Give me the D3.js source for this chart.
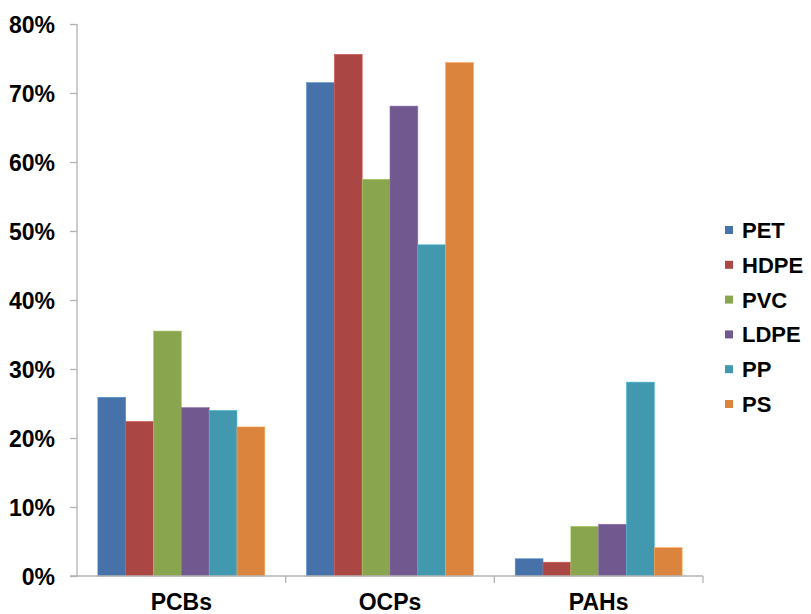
<!DOCTYPE html>
<html><head><meta charset="utf-8">
<script src="https://cdn.jsdelivr.net/npm/d3@7"></script>
<style>body{margin:0;background:#fff}svg{display:block}text{font-family:"Liberation Sans",Arial,sans-serif;font-weight:bold;fill:#000}</style>
</head><body><svg id="c" width="811" height="614"></svg>
<script>
const categories = ["PCBs", "OCPs", "PAHs"];
const seriesNames = ["PET", "HDPE", "PVC", "LDPE", "PP", "PS"];
const PET  = [25.9, 71.5, 2.5];
const HDPE = [22.4, 75.6, 2.0];
const PVC  = [35.5, 57.5, 7.2];
const LDPE = [24.4, 68.1, 7.5];
const PP   = [24.0, 48.0, 28.1];
const PS   = [21.6, 74.4, 4.1];
const seriesValues = [PET, HDPE, PVC, LDPE, PP, PS];
const colors = ["#4672A9", "#AA4643", "#89A54E", "#71588F", "#4198AF", "#DB843D"];
const yTicks = [0, 10, 20, 30, 40, 50, 60, 70, 80];

const svg = d3.select("#c");
const mLeft = 77, mRight = 703, mTop = 24, mBottom = 576;
const x0 = d3.scaleBand().domain(categories).range([mLeft, mRight]).paddingInner(0).paddingOuter(0);
const x1 = d3.scaleBand().domain(seriesNames).range([0, x0.bandwidth()]).paddingOuter(0.75).paddingInner(0);
const y = d3.scaleLinear().domain([0, 80]).range([mBottom, mTop]);

// bars
categories.forEach((c, ci) => {
  const g = svg.append("g").attr("transform", `translate(${x0(c)},0)`);
  seriesNames.forEach((s, si) => {
    const v = seriesValues[si][ci];
    g.append("rect")
      .attr("x", x1(s)).attr("width", x1.bandwidth())
      .attr("y", y(v)).attr("height", y(0) - y(v))
      .attr("fill", colors[si])
      .attr("stroke", d3.color(colors[si]).brighter(0.6)).attr("stroke-width", 0.6);
  });
});

// y axis
const yAxis = d3.axisLeft(y).tickValues(yTicks).tickFormat(d => d + "%").tickSize(7).tickPadding(15);
const ya = svg.append("g").attr("transform", `translate(${mLeft},0)`).call(yAxis);
ya.select(".domain").attr("stroke", "#b3b3b3").attr("stroke-width", 1.3).attr("d", `M0,${mTop}V${mBottom}`);
ya.selectAll(".tick line").attr("stroke", "#b3b3b3").attr("stroke-width", 1.3);
ya.selectAll(".tick text").style("font-size", "23px").attr("dy", "0.36em").style("font-weight", "bold").attr("fill", "#000");

// x axis
const xa = svg.append("g").attr("transform", `translate(0,${mBottom})`);
xa.append("line").attr("x1", mLeft - 7).attr("x2", mRight).attr("stroke", "#b3b3b3").attr("stroke-width", 1.3);
const bounds = categories.map(c => x0(c) + x0.bandwidth());
xa.selectAll(".bt").data(bounds).enter().append("line")
  .attr("x1", d => d).attr("x2", d => d).attr("y1", 0).attr("y2", 7)
  .attr("stroke", "#b3b3b3").attr("stroke-width", 1.3);
xa.selectAll(".cl").data(categories).enter().append("text")
  .attr("x", d => x0(d) + x0.bandwidth() / 2).attr("y", 34)
  .attr("text-anchor", "middle").style("font-size", "23px").text(d => d);

// legend
const leg = svg.append("g").attr("transform", "translate(725,230)");
seriesNames.forEach((s, i) => {
  const g = leg.append("g").attr("transform", `translate(0,${i * 34.8})`);
  g.append("rect").attr("x", 0).attr("y", -4).attr("width", 8).attr("height", 8).attr("fill", colors[i]);
  g.append("text").attr("x", 17).attr("y", 0).attr("dy", "0.36em").style("font-size", "22px").text(s);
});
</script></body></html>
